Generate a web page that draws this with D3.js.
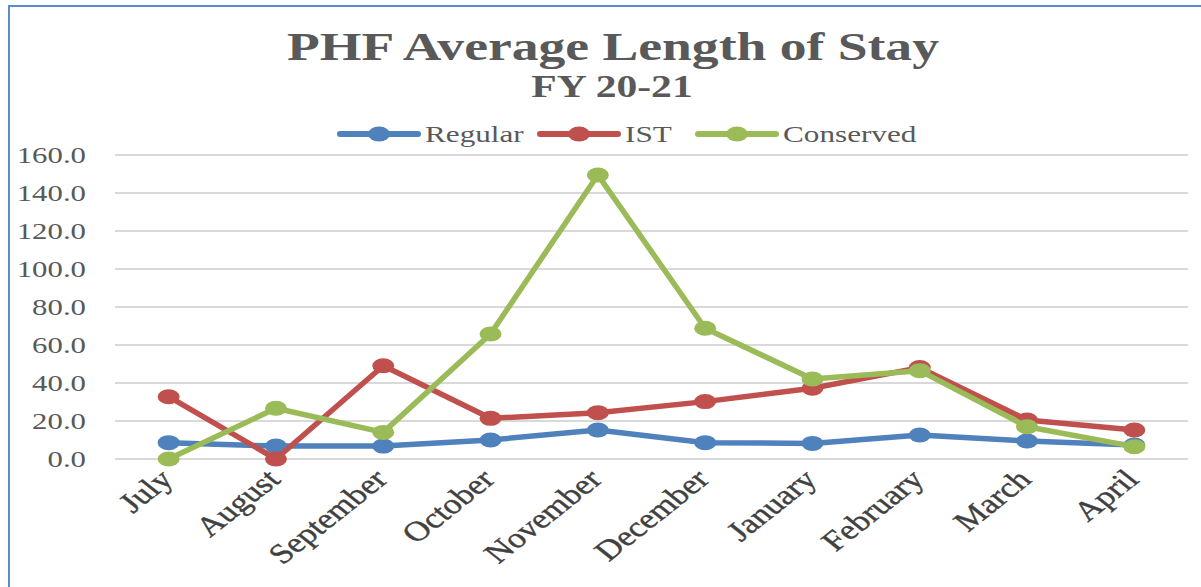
<!DOCTYPE html>
<html>
<head>
<meta charset="utf-8">
<script src="https://cdn.jsdelivr.net/npm/d3@7"></script>
<style>
  body { margin: 0; background: #fff; }
  svg { display: block; }
</style>
</head>
<body>
<div class="Canvas"></div>
<script>
// Months of the fiscal year shown on the x axis.
const months = ['July', 'August', 'September', 'October', 'November', 'December', 'January', 'February', 'March', 'April'];
// Average length of stay for each series.
const regular = [8.6, 6.8, 6.8, 10.0, 15.3, 8.6, 8.2, 12.6, 9.5, 7.4];
const ist = [32.8, 0.0, 49.1, 21.4, 24.4, 30.2, 37.2, 48.1, 20.5, 15.3];
const conserved = [0.0, 26.7, 14.0, 65.8, 149.5, 68.8, 42.1, 46.5, 17.0, 6.5];
const seriesNames = ['Regular', 'IST', 'Conserved'];
const yTicks = [0, 20, 40, 60, 80, 100, 120, 140, 160];

const width = 1201;
const height = 587;
const colors = ['#4F81BD', '#C0504D', '#9BBB59'];
const font = '"Liberation Serif", "Times New Roman", serif';
const textColor = '#595959';
const stretch = 1.34; // the whole picture is drawn wide, so text is too

const svg = d3.select('.Canvas').append('svg').attr('width', width).attr('height', height);

// Blue frame round the chart.
svg.append('path')
    .attr('d', `M9,${height} V6 H${width}`)
    .attr('fill', 'none')
    .attr('stroke', '#5B8BCF')
    .attr('stroke-width', 2);

const x = d3.scaleBand().domain(months).range([115, 1188]);
const y = d3.scaleLinear().domain([0, 160]).range([459, 155]);
const cx = (m) => x(m) + x.bandwidth() / 2;

// Draw text then widen it sideways round its anchor point.
const wideText = (g, tx, ty, str, opts) => {
    return g.append('text')
        .attr('transform', `translate(${tx},${ty}) scale(${opts.sx || stretch},1)`)
        .attr('text-anchor', opts.anchor || 'middle')
        .attr('font-family', font)
        .attr('font-size', opts.size)
        .attr('font-weight', opts.weight || 'normal')
        .attr('fill', textColor)
        .text(str);
};

// Title.
wideText(svg, 613, 60, 'PHF Average Length of Stay', { size: '40px', weight: 'bold' });
wideText(svg, 612, 97, 'FY 20-21', { size: '32px', weight: 'bold', sx: 1.3 });

// Gridlines and y labels.
const grid = svg.append('g');
grid.selectAll('line')
    .data(yTicks)
    .enter()
    .append('line')
    .attr('x1', 115)
    .attr('x2', 1188)
    .attr('y1', (d) => y(d))
    .attr('y2', (d) => y(d))
    .attr('stroke', '#D9D9D9')
    .attr('stroke-width', 2);
yTicks.forEach((d) => {
    wideText(grid, 86, y(d) + 8, d.toFixed(1), { size: '23px', anchor: 'end' });
});

// X labels, tilted and then widened like the rest of the picture.
const xl = svg.append('g');
months.forEach((m) => {
    xl.append('text')
        .attr('transform', `translate(${cx(m) + 6},${481}) scale(${1.26},1) rotate(-45)`)
        .attr('text-anchor', 'end')
        .attr('font-family', font)
        .attr('font-size', '28px')
        .attr('stroke', '#404040')
        .attr('stroke-width', 0.4)
        .attr('fill', '#404040')
        .text(m);
});

// Lines and markers.
const allSeries = [regular, ist, conserved];
const line = d3.line()
    .x((d, i) => cx(months[i]))
    .y((d) => y(d));

allSeries.forEach((vals, k) => {
    const g = svg.append('g');
    g.append('path')
        .attr('d', line(vals))
        .attr('fill', 'none')
        .attr('stroke', colors[k])
        .attr('stroke-width', 5.5)
        .attr('stroke-linejoin', 'round');
    g.selectAll('ellipse')
        .data(vals)
        .enter()
        .append('ellipse')
        .attr('cx', (d, i) => cx(months[i]))
        .attr('cy', (d) => y(d))
        .attr('rx', 11)
        .attr('ry', 7.5)
        .attr('fill', colors[k]);
});

// Legend.
const legendX = [340, 540, 698];
const legend = svg.append('g');
seriesNames.forEach((name, k) => {
    const lx = legendX[k];
    legend.append('line')
        .attr('x1', lx).attr('x2', lx + 78)
        .attr('y1', 134).attr('y2', 134)
        .attr('stroke', colors[k])
        .attr('stroke-width', 6)
        .attr('stroke-linecap', 'round');
    legend.append('ellipse')
        .attr('cx', lx + 39).attr('cy', 134)
        .attr('rx', 11).attr('ry', 7.5)
        .attr('fill', colors[k]);
    wideText(legend, lx + 85, 142, name, { size: '24px', anchor: 'start', sx: 1.3 });
});
</script>
</body>
</html>
